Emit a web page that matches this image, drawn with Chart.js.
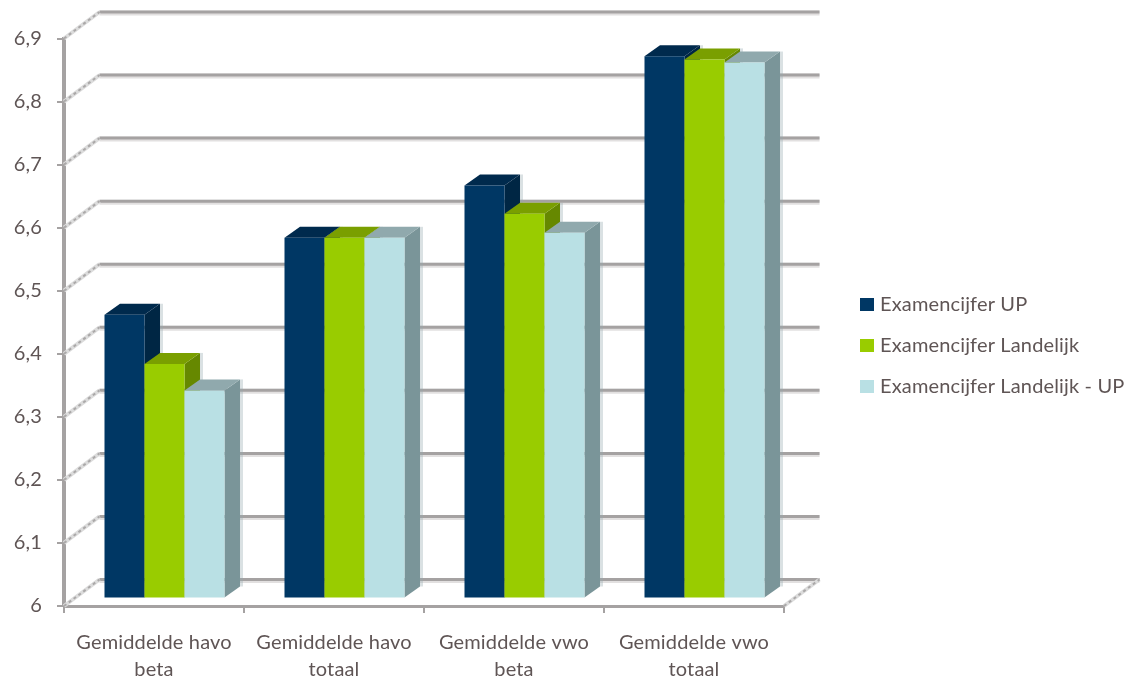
<!DOCTYPE html>
<html>
<head>
<meta charset="utf-8">
<title>Examencijfers</title>
<script src="https://cdn.jsdelivr.net/npm/chart.js@4"></script>
<style>
  html, body { margin: 0; background: #fff; }
  canvas { display: block; }
</style>
</head>
<body>
<canvas id="examChart" width="1127" height="677"></canvas>
<script>
const categories = [
    ["Gemiddelde havo", "beta"],
    ["Gemiddelde havo", "totaal"],
    ["Gemiddelde vwo", "beta"],
    ["Gemiddelde vwo", "totaal"]
];
const examenUP = [6.45, 6.572, 6.655, 6.86];
const examenLandelijk = [6.372, 6.572, 6.61, 6.855];
const examenLandelijkUP = [6.33, 6.572, 6.58, 6.85];

const textColor = "#5f5555";
const axisColor = "#a5a2a2";

// front, top and side colour per series
const faces = [
    { front: "#003764", top: "#002a4d", side: "#002644" },
    { front: "#99cc00", top: "#7a9f00", side: "#668800" },
    { front: "#b9e0e4", top: "#90a9ad", side: "#7a9599" }
];

// depth of the back wall and of the bars, and where the bars stand on the floor
const wall = { dx: 35.5, dy: -26.5 };
const barDepth = { dx: 15.5, dy: -11 };
const barShift = { dx: 10.5, dy: -7.5 };

function strokeLine(ctx, x1, y1, x2, y2) {
    ctx.beginPath();
    ctx.moveTo(x1, y1);
    ctx.lineTo(x2, y2);
    ctx.stroke();
}

// the dashed looking diagonals on the side wall and floor
function diagonal(ctx, x, y) {
    ctx.lineWidth = 4;
    ctx.strokeStyle = "#dcdcdc";
    strokeLine(ctx, x, y, x + wall.dx, y + wall.dy);
    ctx.setLineDash([3, 3]);
    ctx.lineWidth = 2;
    ctx.strokeStyle = "#aaa8a8";
    strokeLine(ctx, x, y, x + wall.dx, y + wall.dy);
    ctx.setLineDash([]);
}

const fakeDepth = {
    id: "fakeDepth",
    beforeLayout(chart) {
        chart.ctx.letterSpacing = "0.15px";
        // keep the legend box as wide as the room right of the floor
        const legend = chart.legend;
        if (legend && !legend.fitWrapped) {
            const fit = legend.fit.bind(legend);
            legend.fit = function () {
                fit();
                this.width = 343;
            };
            legend.fitWrapped = true;
        }
    },
    afterLayout(chart) {
        const legend = chart.legend;
        legend.left = 843;
        legend.right = 1127;
        legend.top = 14;
        legend.bottom = 677;
    },
    beforeDraw(chart) {
        chart.ctx.letterSpacing = "0.15px";
    },
    beforeDatasetsDraw(chart) {
        const ctx = chart.ctx;
        const y = chart.scales.y;
        const left = chart.chartArea.left;
        const right = chart.chartArea.right;

        ctx.save();
        y.ticks.forEach(tick => {
            const py = y.getPixelForValue(tick.value);

            // back wall gridline
            ctx.lineWidth = 5;
            ctx.strokeStyle = "#e2e0e0";
            strokeLine(ctx, left + wall.dx, py + wall.dy + 1, right + wall.dx, py + wall.dy + 1);
            ctx.lineWidth = 3;
            ctx.strokeStyle = axisColor;
            strokeLine(ctx, left + wall.dx, py + wall.dy, right + wall.dx, py + wall.dy);

            diagonal(ctx, left, py);
        });
        diagonal(ctx, right, y.getPixelForValue(6));
        ctx.restore();
    },
    beforeDatasetDraw() {
        // bars are painted below, left to right, so the sides overlap properly
        return false;
    },
    afterDatasetsDraw(chart) {
        const ctx = chart.ctx;
        ctx.save();
        ctx.translate(barShift.dx, barShift.dy);
        chart.data.datasets.forEach((ds, i) => {
            const colors = faces[i];
            chart.getDatasetMeta(i).data.forEach(bar => {
                const l = bar.x - bar.width / 2;
                const r = bar.x + bar.width / 2;
                const t = bar.y;
                const b = bar.base;

                // soft shadow right of the bar
                ctx.fillStyle = "rgba(150,170,175,0.35)";
                ctx.fillRect(r + barDepth.dx, t + barDepth.dy, 3, b - t);

                ctx.fillStyle = colors.side;
                ctx.beginPath();
                ctx.moveTo(r, t);
                ctx.lineTo(r + barDepth.dx, t + barDepth.dy);
                ctx.lineTo(r + barDepth.dx, b + barDepth.dy);
                ctx.lineTo(r, b);
                ctx.closePath();
                ctx.fill();

                ctx.fillStyle = colors.top;
                ctx.beginPath();
                ctx.moveTo(l, t);
                ctx.lineTo(l + barDepth.dx, t + barDepth.dy);
                ctx.lineTo(r + barDepth.dx, t + barDepth.dy);
                ctx.lineTo(r, t);
                ctx.closePath();
                ctx.fill();

                bar.draw(ctx);
            });
        });
        ctx.restore();
    }
};

const tickFont = { family: "Lato", size: 20 };

new Chart(document.getElementById("examChart"), {
    type: "bar",
    data: {
        labels: categories,
        datasets: [
            { label: "Examencijfer UP", data: examenUP, base: 6, backgroundColor: faces[0].front },
            { label: "Examencijfer Landelijk", data: examenLandelijk, base: 6, backgroundColor: faces[1].front },
            { label: "Examencijfer Landelijk - UP", data: examenLandelijkUP, base: 6, backgroundColor: faces[2].front }
        ]
    },
    options: {
        responsive: false,
        animation: false,
        barPercentage: 1,
        categoryPercentage: 0.6667,
        layout: { padding: { top: 38.5, left: 0, right: 0, bottom: 0 } },
        plugins: {
            tooltip: { enabled: false },
            legend: {
                position: "right",
                labels: {
                    color: textColor,
                    font: tickFont,
                    boxWidth: 6,
                    boxHeight: 5,
                    padding: 21,
                    // a wide stroke makes the 14px swatch, so the text sits closer to it
                    generateLabels(chart) {
                        return Chart.defaults.plugins.legend.labels.generateLabels(chart).map(item => {
                            item.lineWidth = 8;
                            item.strokeStyle = item.fillStyle;
                            return item;
                        });
                    }
                }
            }
        },
        scales: {
            x: {
                afterFit: scale => { scale.height = 71; },
                border: { color: axisColor, width: 3 },
                grid: { drawOnChartArea: false, color: axisColor, tickLength: 7, lineWidth: 2 },
                ticks: { color: textColor, font: { family: "Lato", size: 20, lineHeight: 1.35 }, autoSkip: false, maxRotation: 0, padding: 16 }
            },
            y: {
                min: 6,
                max: 6.9,
                afterFit: scale => { scale.width = 64; },
                border: { color: axisColor, width: 4 },
                grid: { drawOnChartArea: false, color: axisColor, tickLength: 7, lineWidth: 2 },
                ticks: {
                    color: textColor,
                    font: tickFont,
                    stepSize: 0.1,
                    padding: 15,
                    callback: value => Number(value) === 6 ? "6" : Number(value).toFixed(1).replace(".", ",")
                }
            }
        }
    },
    plugins: [fakeDepth]
});
</script>
</body>
</html>
